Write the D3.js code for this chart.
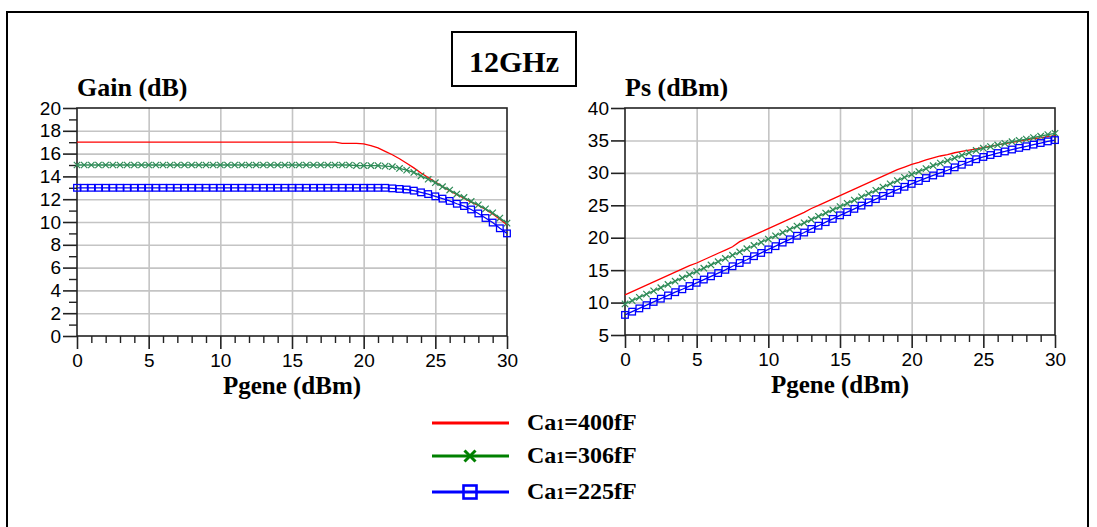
<!DOCTYPE html>
<html><head><meta charset="utf-8">
<script src="https://cdn.jsdelivr.net/npm/d3@7"></script>
<style>
html,body{margin:0;padding:0;background:#fff;}
svg{display:block;}
</style></head>
<body>
<svg id="chart" width="1097" height="527"></svg>
<script>
// ---------- data ----------
const pgene = [0,0.5,1,1.5,2,2.5,3,3.5,4,4.5,5,5.5,6,6.5,7,7.5,8,8.5,9,9.5,10,10.5,11,11.5,12,12.5,13,13.5,14,14.5,15,15.5,16,16.5,17,17.5,18,18.5,19,19.5,20,20.5,21,21.5,22,22.5,23,23.5,24,24.5,25,25.5,26,26.5,27,27.5,28,28.5,29,29.5,30];

const gain400 = [17,17,17,17,17,17,17,17,17,17,
 17,17,17,17,17,17,17,17,17,17,
 17,17,17,17,17,17,17,17,17,17,
 17,17,17,17,17,17,17,
 16.9,16.9,16.9,16.85,16.7,16.5,16.2,15.9,15.55,15.15,14.75,14.3,13.9,13.5,13.1,12.75,12.4,12.1,11.75,11.45,11.1,10.7,10.25,9.75];
const gain306 = [15,15,15,15,15,15,15,15,15,15,
 15,15,15,15,15,15,15,15,15,15,
 15,15,15,15,15,15,15,15,15,15,
 15,15,15,15,15,15,15,15,15,
 14.95,14.95,14.95,14.95,14.9,14.85,14.7,14.55,14.35,14.05,13.75,13.45,13.1,12.8,12.45,12.15,11.8,11.5,11.15,10.8,10.35,9.9];
const gain225 = [13,13,13,13,13,13,13,13,13,13,
 13,13,13,13,13,13,13,13,13,13,
 13,13,13,13,13,13,13,13,13,13,
 13,13,13,13,13,13,13,13,13,13,
 13,13,13,13,
 12.95,12.9,12.85,12.75,12.6,12.45,12.25,12.05,11.85,11.6,11.4,11.1,10.75,10.35,9.95,9.45,9.0];

const ps400 = [11.2,11.7,12.2,12.7,13.2,13.7,14.2,14.7,15.2,15.7,
 16.1,16.6,17.1,17.6,18.1,18.6,19.4,19.9,20.4,20.9,
 21.4,21.9,22.4,22.9,23.4,23.9,24.5,25.0,25.5,26.0,
 26.5,27.0,27.5,28.0,28.5,29.0,29.5,30.0,30.5,30.9,
 31.3,31.6,32.0,32.3,32.6,32.8,33.1,33.3,33.5,33.7,
 33.9,34.1,34.3,34.5,34.7,34.9,35.1,35.3,35.4,35.6,
 35.75];
const ps306 = [9.8,10.3,10.8,11.3,11.8,12.3,12.8,13.3,13.8,14.3,
 14.8,15.3,15.8,16.3,16.8,17.3,17.8,18.3,18.8,19.3,
 19.8,20.3,20.8,21.3,21.8,22.3,22.8,23.3,23.8,24.3,
 24.8,25.3,25.8,26.3,26.8,27.3,27.8,28.3,28.8,29.3,
 29.75,30.2,30.65,31.1,31.5,31.9,32.3,32.7,33.1,33.45,
 33.8,34.05,34.3,34.55,34.8,35.0,35.2,35.45,35.65,35.9,
 36.1];
const ps225 = [8.1,8.6,9.1,9.6,10.1,10.6,11.1,11.6,12.05,12.55,
 13.05,13.55,14.05,14.55,15.05,15.6,16.1,16.6,17.15,17.65,
 18.2,18.7,19.25,19.75,20.3,20.8,21.35,21.85,22.4,22.9,
 23.45,23.95,24.45,24.95,25.45,25.95,26.45,26.9,27.4,27.85,
 28.3,28.75,29.2,29.6,30.0,30.4,30.85,31.25,31.7,32.1,
 32.45,32.75,33.05,33.3,33.6,33.85,34.1,34.35,34.6,34.85,
 35.05];

const seriesNames = ["400fF","306fF","225fF"];
const xTicks = [0,5,10,15,20,25,30];
const xMinorTicks = [1,2,3,4,6,7,8,9,11,12,13,14,16,17,18,19,21,22,23,24,26,27,28,29];
const gainTicks = [0,2,4,6,8,10,12,14,16,18,20];
const gainMinorTicks = [1,3,5,7,9,11,13,15,17,19];
const psTicks = [5,10,15,20,25,30,35,40];

// ---------- styles ----------
const colors = ["#ff0000","#2e8b57","#0000ff"];
const legendColors = ["#ff0000","#008000","#0000ff"];
const markers = ["none","cross","square"];
const serif = "'Liberation Serif','Times New Roman',serif";
const sans = "'Liberation Sans',Arial,sans-serif";

const svg = d3.select("#chart");

// outer frame
svg.append("rect").attr("x",7).attr("y",12).attr("width",1081).attr("height",540)
  .attr("fill","none").attr("stroke","#000").attr("stroke-width",2);

// title box
svg.append("rect").attr("x",452).attr("y",32).attr("width",124).attr("height",54)
  .attr("fill","#fff").attr("stroke","#000").attr("stroke-width",2);
svg.append("text").attr("x",514).attr("y",72).attr("text-anchor","middle")
  .attr("font-family",serif).attr("font-weight","bold").attr("font-size",30).text("12GHz");

function drawPanel(cfg){
  const g = svg.append("g").attr("transform",`translate(${cfg.left},${cfg.top})`);
  const w = cfg.width, h = cfg.height;
  const x = d3.scaleLinear().domain([0,30]).range([0,w]);
  const y = d3.scaleLinear().domain(cfg.yDomain).range([h,0]);

  // grid
  g.append("g").attr("class","grid").attr("transform",`translate(0,${h})`)
    .call(d3.axisBottom(x).tickValues(xTicks.slice(1,-1)).tickSize(-h).tickFormat(""))
    .call(s=>{s.select(".domain").remove(); s.selectAll("line").attr("stroke","#c4c4c4").attr("stroke-width",1.6);});
  g.append("g").attr("class","grid")
    .call(d3.axisLeft(y).tickValues(cfg.yTicks.slice(1,-1)).tickSize(-w).tickFormat(""))
    .call(s=>{s.select(".domain").remove(); s.selectAll("line").attr("stroke","#c4c4c4").attr("stroke-width",1.6);});

  // frame
  g.append("rect").attr("width",w).attr("height",h).attr("fill","none")
    .attr("stroke","#222").attr("stroke-width",1.6);

  // x axes
  g.append("g").attr("transform",`translate(0,${h})`)
    .call(d3.axisBottom(x).tickValues(xMinorTicks).tickSize(7).tickFormat(""))
    .call(s=>{s.select(".domain").remove(); s.selectAll("line").attr("stroke","#222").attr("stroke-width",1.4);});
  g.append("g").attr("transform",`translate(0,${h})`)
    .call(d3.axisBottom(x).tickValues(xTicks).tickSize(13).tickPadding(5).tickFormat(d3.format("d")))
    .call(s=>{s.select(".domain").remove(); s.selectAll("line").attr("stroke","#222").attr("stroke-width",1.6);
      s.selectAll("text").attr("font-family",sans).attr("font-size",19).attr("fill","#000");});

  // y axes
  if(cfg.yMinor){
    g.append("g").call(d3.axisLeft(y).tickValues(cfg.yMinor).tickSize(8).tickFormat(""))
      .call(s=>{s.select(".domain").remove(); s.selectAll("line").attr("stroke","#222").attr("stroke-width",1.4);});
  }
  g.append("g").call(d3.axisLeft(y).tickValues(cfg.yTicks).tickSize(14).tickPadding(2).tickFormat(d3.format("d")))
    .call(s=>{s.select(".domain").remove(); s.selectAll("line").attr("stroke","#222").attr("stroke-width",1.6);
      s.selectAll("text").attr("font-family",sans).attr("font-size",19).attr("fill","#000");});

  // titles
  g.append("text").attr("x",0).attr("y",-12).attr("font-family",serif).attr("font-weight","bold")
    .attr("font-size",26).text(cfg.title);
  g.append("text").attr("x",w/2).attr("y",h+58).attr("text-anchor","middle").attr("font-family",serif)
    .attr("font-weight","bold").attr("font-size",25).text("Pgene (dBm)");

  // series
  const line = d3.line().x((d,i)=>x(pgene[i])).y(d=>y(d));
  cfg.series.forEach((vals,k)=>{
    g.append("path").datum(vals).attr("d",line).attr("fill","none")
      .attr("stroke",colors[k]).attr("stroke-width",1.3);
    if(markers[k]==="square"){
      g.append("g").selectAll("rect").data(vals).join("rect")
        .attr("x",(d,i)=>x(pgene[i])-3.3).attr("y",d=>y(d)-3.3)
        .attr("width",6.6).attr("height",6.6).attr("fill","none")
        .attr("stroke",colors[k]).attr("stroke-width",1.3);
    } else if(markers[k]==="cross"){
      g.append("g").selectAll("path").data(vals).join("path")
        .attr("d",(d,i)=>{const cx=x(pgene[i]), cy=y(d), r=3.2;
          return `M${cx-r},${cy-r}L${cx+r},${cy+r}M${cx-r},${cy+r}L${cx+r},${cy-r}`;})
        .attr("stroke",colors[k]).attr("stroke-width",1.2).attr("fill","none");
    }
  });
}

drawPanel({left:77,top:108,width:430,height:228,yDomain:[0,20],yTicks:gainTicks,yMinor:gainMinorTicks,
  title:"Gain (dB)",series:[gain400,gain306,gain225]});
drawPanel({left:625,top:108,width:430,height:227,yDomain:[5,40],yTicks:psTicks,yMinor:null,
  title:"Ps (dBm)",series:[ps400,ps306,ps225]});

// legend
const legY = [423,456,492];
const lg = svg.append("g");
seriesNames.forEach((name,k)=>{
  const yy = legY[k];
  lg.append("line").attr("x1",432).attr("x2",509).attr("y1",yy).attr("y2",yy)
    .attr("stroke",legendColors[k]).attr("stroke-width",3);
  if(markers[k]==="cross"){
    const r=5.5;
    lg.append("path").attr("d",`M${470-r},${yy-r}L${470+r},${yy+r}M${470-r},${yy+r}L${470+r},${yy-r}`)
      .attr("stroke",legendColors[k]).attr("stroke-width",3).attr("fill","none");
  } else if(markers[k]==="square"){
    lg.append("rect").attr("x",470-6.5).attr("y",yy-6.5).attr("width",13).attr("height",13)
      .attr("fill","none").attr("stroke",legendColors[k]).attr("stroke-width",2.6);
  }
  const t = lg.append("text").attr("x",527).attr("y",yy+7).attr("font-family",serif)
    .attr("font-weight","bold").attr("font-size",24).attr("fill","#000");
  t.append("tspan").text("Ca");
  t.append("tspan").attr("font-size",16).text("1");
  t.append("tspan").attr("font-size",24).text("=" + name);
});
</script>
</body></html>
